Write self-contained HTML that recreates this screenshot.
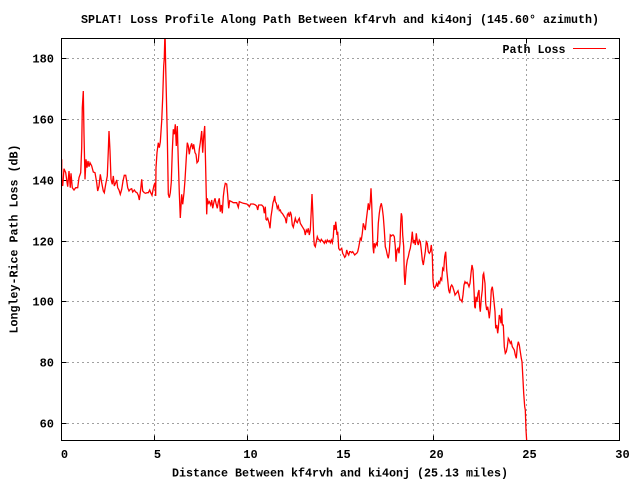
<!DOCTYPE html>
<html>
<head>
<meta charset="utf-8">
<style>
  html, body { margin: 0; padding: 0; background: #ffffff; }
  svg { display: block; }
  text { font-family: "Liberation Mono", "DejaVu Sans Mono", monospace; font-weight: bold; fill: #000; font-size: 12px; }
</style>
</head>
<body>
<svg width="640" height="480" viewBox="0 0 640 480" xmlns="http://www.w3.org/2000/svg">
  <rect x="0" y="0" width="640" height="480" fill="#ffffff"/>
  <defs>
    <clipPath id="plot">
      <rect x="61.5" y="38.5" width="558" height="402"/>
    </clipPath>
  </defs>

  <!-- grid -->
  <g stroke="#a0a0a0" stroke-width="1" stroke-dasharray="2,3" fill="none">
    <line x1="62" y1="58.5" x2="619" y2="58.5"/>
    <line x1="62" y1="119.5" x2="619" y2="119.5"/>
    <line x1="62" y1="180.5" x2="619" y2="180.5"/>
    <line x1="62" y1="241.5" x2="619" y2="241.5"/>
    <line x1="62" y1="301.5" x2="619" y2="301.5"/>
    <line x1="62" y1="362.5" x2="619" y2="362.5"/>
    <line x1="62" y1="423.5" x2="619" y2="423.5"/>
    <line x1="154.5" y1="39" x2="154.5" y2="440"/>
    <line x1="247.5" y1="39" x2="247.5" y2="440"/>
    <line x1="340.5" y1="39" x2="340.5" y2="440"/>
    <line x1="433.5" y1="39" x2="433.5" y2="440"/>
    <line x1="526.5" y1="39" x2="526.5" y2="440"/>
  </g>

  <!-- ticks -->
  <g stroke="#000" stroke-width="1" fill="none">
    <path d="M61.5 58.5h5M61.5 119.5h5M61.5 180.5h5M61.5 241.5h5M61.5 301.5h5M61.5 362.5h5M61.5 423.5h5"/>
    <path d="M619.5 58.5h-5M619.5 119.5h-5M619.5 180.5h-5M619.5 241.5h-5M619.5 301.5h-5M619.5 362.5h-5M619.5 423.5h-5"/>
    <path d="M154.5 440.5v-5M247.5 440.5v-5M340.5 440.5v-5M433.5 440.5v-5M526.5 440.5v-5"/>
    <path d="M154.5 38.5v5M247.5 38.5v5M340.5 38.5v5M433.5 38.5v5M526.5 38.5v5"/>
  </g>

  <!-- data -->
  <g clip-path="url(#plot)">
    <polyline fill="none" stroke="#ff0000" stroke-width="1.3" stroke-linejoin="miter"
      points="61.7,159.3 61.7,179.3 62.7,186 64,168.7 65.7,172.7 66.7,180 67.7,186.7 69,171 70.3,187.7 71,173.3 72.3,187.7 74,190 75.7,187.7 77.7,187.7 79,177.7 80.7,172.7 81.7,147.7 82.3,107.7 83.3,91 84,134.3 85,179.3 86,159.3 87,167.7 88,161 89,166.7 90,162.7 91.7,166 93.3,172 95,172.7 96.7,182.7 97.7,191 99,186 100.3,174.3 101.7,182.7 103.3,191 104.3,192.7 105.7,184.3 107.3,176 108.3,151 109,131 110,151 111,179.3 112.3,184.3 113.3,176 114.3,186 115.7,182.7 116.7,180 117.7,187.7 119,190 120.3,194.3 121.7,189.3 123,181 124.3,175.3 125.7,175.3 126.7,181 127.7,187.7 129,191 130.3,189.3 131.7,188.7 132.7,192 134.3,190 135.7,192 137,192.7 138.3,195.3 139.3,200 140.7,189.3 141.7,179.3 142.7,191 144.3,192.7 145.7,193.3 147,192.7 148.3,192.7 149.7,190 150.7,192.7 152,195.3 153,190 154,185.3 155,182.7 155.7,196 156,167.7 157,152.7 158.3,142.7 159.3,147.7 160.3,142 161.7,121 162.7,97.7 163.7,66 164.3,57.7 165,30 165.7,67.7 166.3,92.7 167.3,136 168.3,194.3 169.3,197.7 170.3,192.7 171.3,182 172.3,151 173.3,129.3 174.3,134.3 175.3,124.3 176.3,146 177.3,126 178.3,161 179.3,192.7 180.3,218 181.7,194.3 182.7,204.3 184,192.7 185,180 186.3,157.7 187.3,142.7 188.3,146 189.3,154.3 190.3,147.7 191.7,143.3 192.7,149.3 193.7,144.3 195,152.7 196,154.3 197,162.7 198.3,161 199.3,149.3 200.3,142.7 201.7,131 202.7,152.7 203.7,136 204.7,126 205.7,169.3 206.7,214.3 207.3,198.3 208.3,203.3 209.3,201.7 210.7,205 211.7,200 212.7,208.3 214,201.7 215,198.3 216,203.3 217.3,208.3 218.3,201.7 219.3,198.3 220.3,211.7 221.3,205 222.3,213.3 223.3,196.7 224.3,188.3 225.3,183.3 226.7,184 227.7,195 228.7,208.3 229.7,200.7 231.7,201.7 233.3,202.7 236.7,202.7 238.3,207.3 239.3,201.7 241.7,202.7 243.3,203.3 246.7,204 248.3,205 249.3,206.7 250.7,204 253.3,204 255,204.7 256.7,206 257.7,210 258.7,205 261.7,205 263.3,206.7 264.3,213.3 265.3,206.7 266,219.3 266.7,220 267.7,218.3 268.7,221.7 269.3,224 270,228.3 271,216.7 272,210 273,202.7 274,199.3 274.7,196 275.3,201.7 276.3,203.3 277.3,208.3 278.3,206 279.3,210.7 280.3,210 281.3,212.7 282.3,213.3 283.3,215 284.3,216.7 285.3,218.3 286.3,223.3 287.3,215 288.3,213.3 289.3,216.7 290.3,211.7 291.3,215 292.3,225 293.3,227.3 294.3,222.7 295.3,218.3 296.3,221.7 297.3,222.7 298.3,220 299.3,218.3 300.3,223.3 301.3,225 302.3,226.7 303.3,228.3 304.3,230 305.3,235 306.3,230 307.3,231.7 308.3,228.3 309.3,235 310.3,230 311.3,210 312,194 312.7,210 313.7,236.7 314.3,245 315.3,246.7 316.3,241.7 317.3,236.7 318.3,239.3 319.3,240 320.3,241.7 321.3,239.3 322.3,240.7 323.3,241.7 324.3,243.3 325.3,240.7 326.3,242.7 327.3,240 328.3,241.7 329.3,240.7 330.3,242.7 331.3,240 332.3,242.7 333.3,236.7 334,225 335,230 335.7,221.7 336.3,226.7 337,235 337.7,231.7 338.7,248.3 339.7,250 340.7,249.3 341.7,248.3 342.7,253.3 343.7,255 344.7,257.3 345.7,256 346.7,250 347.7,253.3 348.7,255 349.7,251.7 350.7,251.7 351.7,252.7 352.7,251.7 353.7,253.3 354.7,255 355.7,254 356.7,253.3 357.7,251.7 358.7,247.3 359.7,241.7 360.3,238.3 361.3,240 362.3,233.3 363.3,223.3 364.3,226.7 365.3,230 366.3,220 367.3,211.7 368.3,203.3 369.3,210 370.3,201.7 371,188.3 371.7,203.3 372.3,223.3 373,246.7 373.7,253.3 374.3,243.3 375.3,246.7 376.3,243.3 377.3,245 378.3,223.3 379.3,213.3 380.3,206.7 381.3,203.3 382.3,208.3 383.3,216.7 384.3,230 385.3,246.7 386.3,250 387.3,255 388.3,258.3 389.3,251.7 390.3,235 391.3,236 392.3,235 393.3,235 394.3,236.7 395.3,246.7 396,261.7 397,250 398,248.3 399,253.3 400,243.3 400.7,223.3 401.3,213.3 402,216.7 402.7,235 403.7,246.7 404.3,275 405,285 405.7,275 406.3,266.7 407.3,260 408.3,256.7 409.3,251.7 410.3,248.3 411.3,241.7 412.3,231.7 413.3,243.3 414.3,240 415.3,245 416.3,233.3 417.3,241.7 418.3,245 419.3,240 420.3,241.7 421.3,250 422.3,260 423.3,265 424.3,258.3 425.3,251.7 426.3,241.7 427.3,243.3 428.3,251.7 429.3,253.3 430.3,251.7 431.3,245 432.3,255 433,280 433.7,286.7 434.7,288.3 435.7,286 436.7,283.3 437.7,286.7 438.7,281.7 439.7,283.3 440.7,278.3 441.7,280 442.7,268.3 443.7,270 444.7,256.7 445.7,251.7 446.7,270 447.7,280 448.7,290 449.7,293.3 450.7,286.7 451.7,285 452.7,286.7 453.7,290 454.7,293.3 455,295 456.7,292.7 458,290.7 459,295 460,300 461,300 462,301.7 463,295 464,285 465,281.7 466,283.3 467,282.3 468,284 469,286.7 470,283.3 471,273.3 472,265 473,270 474,290 474.7,306.7 475.3,308.3 476,296.7 477,301.7 478,293.3 479,290 479.7,306.7 480.3,311.7 481.3,298.3 482.3,290 483,275 483.7,273.3 484.3,278.3 485,283.3 485.7,303.3 486.7,310 487.7,306.7 488.7,313.3 489.3,318.3 490.3,308.3 491.3,290 492.3,286.7 493,291.7 494,301.7 495,311.7 495.7,328.3 496.7,325 497.7,333.3 498.3,328.3 499.3,315 500.3,318.3 501,323.3 501.7,308.3 502.3,325 503.3,325 504.3,346.7 505.3,353.3 506.3,351.7 507.3,346.7 508.3,338.3 509.3,340 510.3,343.3 511.3,341.7 512.3,346.7 513.3,348.3 514.3,350 515.3,355 516.3,358.3 517.3,346.7 518.3,341.7 519.3,345 520.3,351.7 521.3,358.3 522,361.7 523,380 523.7,393.3 524.7,406.7 525.3,410 526,430 526.7,441"/>
  </g>

  <!-- border -->
  <rect x="61.5" y="38.5" width="558" height="402" fill="none" stroke="#000" stroke-width="1"/>

  <!-- y tick labels -->
  <g text-anchor="end">
    <text x="54" y="62.5">180</text>
    <text x="54" y="123.5">160</text>
    <text x="54" y="184.5">140</text>
    <text x="54" y="245.5">120</text>
    <text x="54" y="305.5">100</text>
    <text x="54" y="366.5">80</text>
    <text x="54" y="427.5">60</text>
  </g>

  <!-- x tick labels -->
  <g text-anchor="middle">
    <text x="64.5" y="458">0</text>
    <text x="157.5" y="458">5</text>
    <text x="250.5" y="458">10</text>
    <text x="343.5" y="458">15</text>
    <text x="436.5" y="458">20</text>
    <text x="529.5" y="458">25</text>
    <text x="622.5" y="458">30</text>
  </g>

  <!-- title -->
  <text x="81" y="23" textLength="518" lengthAdjust="spacingAndGlyphs">SPLAT! Loss Profile Along Path Between kf4rvh and ki4onj (145.60° azimuth)</text>

  <!-- x axis title -->
  <text x="172" y="476.5" textLength="336" lengthAdjust="spacingAndGlyphs">Distance Between kf4rvh and ki4onj (25.13 miles)</text>

  <!-- y axis title -->
  <text transform="translate(17.5,333.5) rotate(-90)" x="0" y="0" textLength="189" lengthAdjust="spacingAndGlyphs">Longley-Rice Path Loss (dB)</text>

  <!-- legend -->
  <text x="502.5" y="53" textLength="63" lengthAdjust="spacingAndGlyphs">Path Loss</text>
  <line x1="573" y1="48.5" x2="606" y2="48.5" stroke="#ff0000" stroke-width="1"/>
</svg>
</body>
</html>
